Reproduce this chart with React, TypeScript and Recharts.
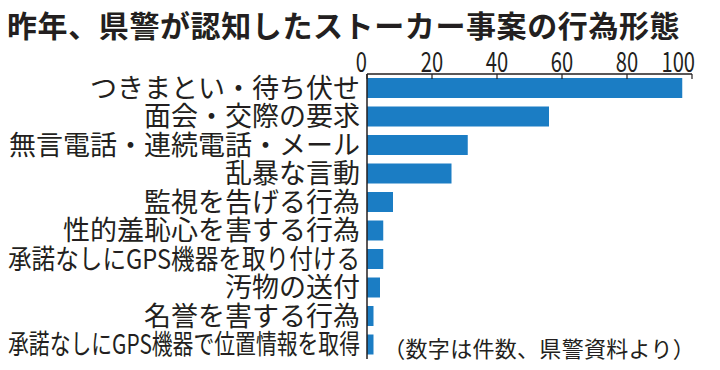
import { BarChart, Bar, XAxis, YAxis } from 'recharts'

const categories = [
  'つきまとい・待ち伏せ',
  '面会・交際の要求',
  '無言電話・連続電話・メール',
  '乱暴な言動',
  '監視を告げる行為',
  '性的羞恥心を害する行為',
  '承諾なしにGPS機器を取り付ける',
  '汚物の送付',
  '名誉を害する行為',
  '承諾なしにGPS機器で位置情報を取得',
]
const counts = [97, 56, 31, 26, 8, 5, 5, 4, 2, 2]
const xTicks = [0, 20, 40, 60, 80, 100]

const title = '昨年、県警が認知したストーカー事案の行為形態'
const note = '（数字は件数、県警資料より）'

const INK = '#231f20'
const BLUE = '#1b7dc4'
const FONT = '"Noto Sans CJK JP", "Noto Sans", sans-serif'
const LABEL_SIZE = 27
const LABEL_MAX = 352

const data = categories.map((name, i) => ({ name, value: counts[i] }))

// rough width guess, squeeze the two long GPS labels into the column like the print does
function labelWidth(s: string) {
  let w = 0
  for (const ch of s) w += ch.charCodeAt(0) < 128 ? 0.62 : 1
  return w * LABEL_SIZE
}

function CategoryTick(props: any) {
  const { x, y, payload } = props
  const text = String(payload.value)
  const squeeze = labelWidth(text) > LABEL_MAX
  return (
    <text
      x={x}
      y={y}
      dy="0.36em"
      textAnchor="end"
      fill={INK}
      fontSize={LABEL_SIZE}
      fontFamily={FONT}
      {...(squeeze ? { textLength: LABEL_MAX, lengthAdjust: 'spacingAndGlyphs' } : {})}
    >
      {text}
    </text>
  )
}

function ValueTick(props: any) {
  const { x, y, payload } = props
  const v = payload.value
  let anchor = 'middle'
  let tx = x
  if (v === 0) anchor = 'end'
  if (v === 100) { anchor = 'end'; tx = x + 3 }
  return (
    <text
      transform={`translate(${tx},${y - 7}) scale(0.72,1)`}
      textAnchor={anchor}
      fill={INK}
      fontSize={28}
      fontFamily={FONT}
    >
      {v}
    </text>
  )
}

export default function App() {
  return (
    <div style={{ position: 'absolute', left: 0, top: 0, width: 720, height: 370, background: '#fff' }}>
      <div
        style={{
          position: 'absolute', left: 7, top: 10, fontFamily: FONT, fontWeight: 700,
          fontSize: 30, lineHeight: '28px', letterSpacing: 0.6, color: INK, whiteSpace: 'nowrap',
        }}
      >
        {title}
      </div>
      <BarChart
        width={720}
        height={370}
        data={data}
        layout="vertical"
        margin={{ top: 44, right: 28, bottom: 11, left: 0 }}
      >
        <XAxis
          type="number"
          orientation="top"
          domain={[0, 100]}
          ticks={xTicks}
          height={30}
          axisLine={{ stroke: INK, strokeWidth: 1.5 }}
          tickLine={{ stroke: INK, strokeWidth: 1.2 }}
          tickSize={-5}
          tickMargin={0}
          tick={<ValueTick />}
          interval={0}
        />
        <YAxis
          type="category"
          dataKey="name"
          width={367}
          axisLine={{ stroke: INK, strokeWidth: 1.5 }}
          tickLine={false}
          tickSize={6}
          tickMargin={1}
          tick={<CategoryTick />}
          interval={0}
        />
        <Bar dataKey="value" fill={BLUE} barSize={20} isAnimationActive={false} />
      </BarChart>
      <div
        style={{
          position: 'absolute', right: 25, top: 337, fontFamily: FONT, fontSize: 22,
          lineHeight: '21px', letterSpacing: 0.3, color: INK, whiteSpace: 'nowrap',
        }}
      >
        {note}
      </div>
    </div>
  )
}
